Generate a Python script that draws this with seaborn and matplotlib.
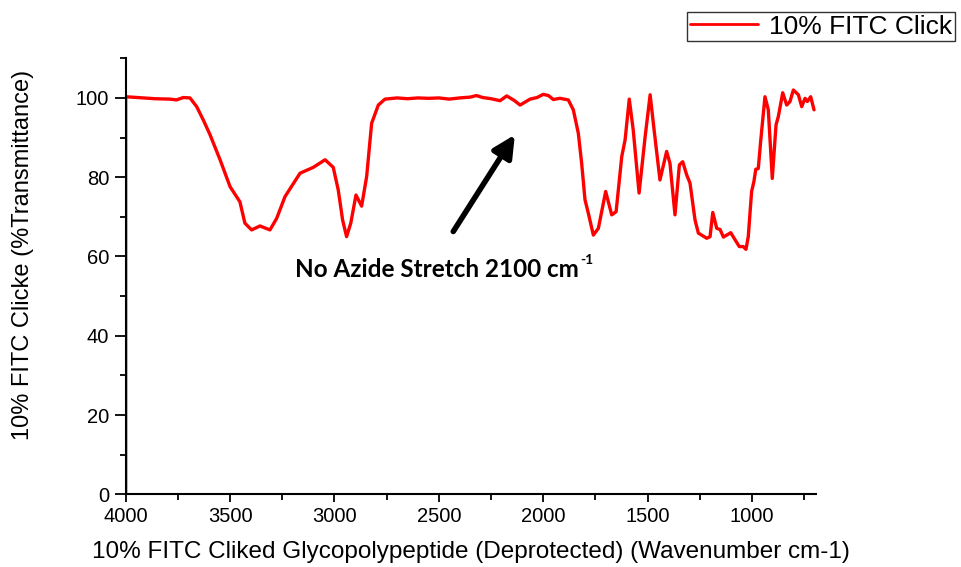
import pandas as pd
import matplotlib
matplotlib.use("Agg")
import matplotlib.pyplot as plt
from matplotlib.ticker import MultipleLocator
import seaborn as sns

# wavenumber (cm-1) and transmittance (%)
wavenumber = [4000, 4000, 3860, 3788, 3757, 3724, 3692, 3660, 3628, 3596, 3548, 3500,
              3453, 3429, 3397, 3357, 3309, 3277, 3237, 3165, 3101, 3045, 3006, 2982,
              2961, 2942, 2922, 2897, 2870, 2846, 2822, 2790, 2758, 2700, 2650, 2600,
              2550, 2500, 2450, 2400, 2350, 2320, 2290, 2250, 2207, 2175, 2140, 2111,
              2063, 2030, 2000, 1975, 1952, 1920, 1880, 1856, 1832, 1816, 1800, 1784,
              1760, 1736, 1701, 1672, 1651, 1624, 1608, 1588, 1569, 1541, 1512, 1488,
              1469, 1441, 1409, 1393, 1369, 1348, 1332, 1313, 1297, 1273, 1257, 1217,
              1201, 1188, 1169, 1153, 1137, 1102, 1081, 1061, 1042, 1029, 1018, 1002,
              991, 982, 970, 958, 938, 922, 903, 885, 874, 853, 834, 818, 802, 778,
              762, 746, 735, 719, 703]
transmittance = [0, 100.3, 99.8, 99.7, 99.5, 100.1, 100.0, 97.8, 94.4, 90.7, 84.4, 77.6,
                 73.8, 68.4, 66.7, 67.7, 66.7, 69.6, 75.1, 81.0, 82.5, 84.4, 82.5, 76.8,
                 69.2, 65.0, 68.4, 75.5, 72.7, 80.1, 93.6, 98.2, 99.7, 100.0, 99.8, 100.0,
                 99.9, 100.0, 99.7, 100.0, 100.2, 100.6, 100.1, 99.8, 99.3, 100.5, 99.4, 98.2,
                 99.7, 100.1, 100.9, 100.6, 99.6, 99.9, 99.5, 97.0, 91.1, 83.5, 74.3, 70.9,
                 65.4, 67.1, 76.4, 70.5, 71.3, 85.2, 89.4, 99.7, 91.9, 76.0, 90.2, 100.8,
                 91.9, 79.3, 86.5, 83.5, 70.5, 83.1, 83.9, 80.6, 78.5, 69.2, 65.9, 64.6,
                 65.0, 71.1, 67.1, 66.8, 64.9, 66.0, 64.2, 62.5, 62.5, 61.8, 65.0, 76.4,
                 78.9, 82.0, 82.2, 89.4, 100.3, 97.0, 79.7, 93.2, 95.3, 101.3, 98.2, 99.1,
                 102.0, 100.8, 97.8, 99.9, 99.1, 100.3, 97.0]

series_name = "10% FITC Click"

df = pd.DataFrame({"wavenumber": wavenumber, "transmittance": transmittance,
                   "sample": series_name})

sns.set_theme(style="ticks")
plt.rcParams["font.family"] = ["Liberation Sans", "DejaVu Sans"]
plt.rcParams["text.color"] = "black"
plt.rcParams["axes.labelcolor"] = "black"

fig = plt.figure(figsize=(9.61, 5.67), dpi=100)
ax = fig.add_axes([0.1308, 0.1282, 0.718, 0.769])

sns.lineplot(data=df, x="wavenumber", y="transmittance", hue="sample",
             palette=["#ff0000"], linewidth=2.4, estimator=None, sort=False,
             legend=False, ax=ax)

ax.set_xlim(4000, 695)
ax.set_ylim(0, 110)
ax.xaxis.set_major_locator(MultipleLocator(500))
ax.xaxis.set_minor_locator(MultipleLocator(250))
ax.yaxis.set_major_locator(MultipleLocator(20))
ax.yaxis.set_minor_locator(MultipleLocator(10))
ax.tick_params(which="major", direction="out", length=6, width=1.3,
               labelsize=14.5, colors="black", pad=3)
ax.tick_params(axis="y", which="major", length=8, pad=4)
ax.tick_params(which="minor", direction="out", length=4, width=1.3, colors="black")
for s in ["top", "right"]:
    ax.spines[s].set_visible(False)
for s in ["left", "bottom"]:
    ax.spines[s].set_linewidth(1.5)
    ax.spines[s].set_color("black")

ax.set_xlabel("10% FITC Cliked Glycopolypeptide (Deprotected) (Wavenumber cm-1)",
              fontsize=17.5, labelpad=11)
ax.set_ylabel("10% FITC Clicke (%Transmittance)", fontsize=17)
ax.yaxis.set_label_coords(-0.133, 0.549)

ax.annotate("", xy=(2136, 90.7), xytext=(2431, 66.3),
            arrowprops=dict(arrowstyle="-|>,head_length=1.1,head_width=0.55",
                            color="black", lw=4, shrinkA=0, shrinkB=0))
label = ax.text(2509, 56.6, "No Azide Stretch 2100 cm", fontsize=17.5,
                fontweight="bold", family=["Lato", "DejaVu Sans"],
                ha="center", va="center", color="black")
ax.annotate("-1", xy=(1, 0.92), xycoords=label, xytext=(1, 0),
            textcoords="offset points", fontsize=10, fontweight="bold",
            family=["Lato", "DejaVu Sans"], ha="left", va="center", color="black")

handle = plt.Line2D([], [], color="#ff0000", linewidth=2)
fig.legend([handle], [series_name], loc="upper left",
           bbox_to_anchor=(687 / 961, 1 - 12 / 567), fontsize=19,
           frameon=True, fancybox=False, edgecolor="black", borderpad=0.1,
           handlelength=2.6, handletextpad=0.4, borderaxespad=0)

fig.savefig("out.png", dpi=100)
